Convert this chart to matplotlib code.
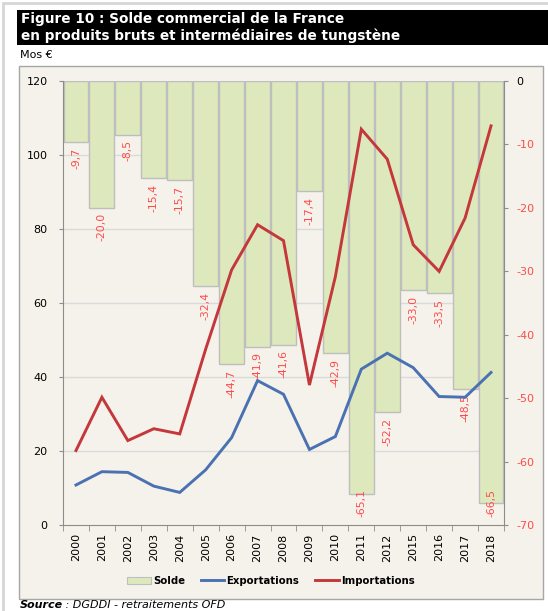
import matplotlib.pyplot as plt
from matplotlib.patches import Rectangle, Patch
from matplotlib.lines import Line2D
import numpy as np

years = ["2000", "2001", "2002", "2003", "2004", "2005", "2006", "2007", "2008",
         "2009", "2010", "2011", "2012", "2015", "2016", "2017", "2018"]
solde = [-9.7, -20.0, -8.5, -15.4, -15.7, -32.4, -44.7, -41.9, -41.6,
         -17.4, -42.9, -65.1, -52.2, -33.0, -33.5, -48.5, -66.5]
exportations = [10.8, 14.4, 14.2, 10.5, 8.8, 14.9, 23.6, 39.0, 35.3,
                20.4, 23.9, 42.1, 46.4, 42.5, 34.7, 34.5, 41.2]
importations = [20.1, 34.5, 22.8, 26.0, 24.6, 47.5, 68.9, 81.1, 76.8,
                37.8, 67.1, 106.9, 98.8, 75.7, 68.5, 82.9, 107.8]

bg = "#F5F2EB"
bar_fill = "#DDE9BD"
bar_edge = "#BEBEBE"
red = "#C4373B"
blue = "#4A72B2"
lbl_red = "#FF4A4A"
axis_gray = "#8C8C8C"

fig = plt.figure(figsize=(5.48, 6.11), dpi=100)
fig.patch.set_facecolor("white")

# page border and chart box (behind the axes)
fig.add_artist(Rectangle((3 / 548, -0.1), 1.0, 1.1 - 3 / 611, transform=fig.transFigure,
                         facecolor="none", edgecolor="#D6D6D6", lw=2.0, zorder=-2))
fig.add_artist(Rectangle((19 / 548, 1 - 599 / 611), 524 / 548, 533 / 611,
                         transform=fig.transFigure, facecolor=bg,
                         edgecolor="#A6A6A6", lw=1.0, zorder=-1))

# title band
fig.add_artist(Rectangle((17 / 548, 1 - 45 / 611), 531 / 548, 35 / 611,
                         transform=fig.transFigure, facecolor="black", edgecolor="none",
                         zorder=-1))
fig.text(21 / 548, 1 - 27.5 / 611,
         "Figure 10 : Solde commercial de la France\nen produits bruts et intermédiaires de tungstène",
         color="white", fontsize=9.8, fontweight="bold", va="center", ha="left",
         linespacing=1.2)
fig.text(20 / 548, 1 - 55 / 611, "Mos €", fontsize=8, va="center", ha="left")

# source line
fig.text(20 / 548, 0.002, "Source", fontsize=8, fontweight="bold",
         fontstyle="italic", va="bottom", ha="left")
fig.text(62 / 548, 0.002, " : DGDDI - retraitements OFD", fontsize=8,
         fontstyle="italic", va="bottom", ha="left")

pos = [63 / 548, 1 - 525 / 611, 441 / 548, 444.3 / 611]
ax2 = fig.add_axes(pos)  # bars, right scale
ax = fig.add_axes(pos, sharex=ax2)  # lines, left scale
ax2.set_zorder(1)
ax.set_zorder(2)
ax.patch.set_visible(False)
ax2.set_facecolor(bg)

x = np.arange(len(years))

# bars on the right scale
ax2.set_ylim(-70, 0)
ax2.yaxis.tick_right()
for v in range(20, 120, 20):
    ax2.axhline(-70 + v * 70 / 120, color="#DADADA", lw=1.0, zorder=0)
ax2.bar(x, solde, width=0.96, color=bar_fill, edgecolor=bar_edge, lw=1.0, zorder=2)
for i, v in enumerate(solde):
    lbl = f"{v:.1f}".replace(".", ",")
    if v < -62:
        # label kept inside the plot area, as Excel does
        ax2.annotate(lbl, (i, -70), xytext=(0, 6), textcoords="offset points",
                     rotation=90, ha="center", va="bottom",
                     fontsize=7.8, color=lbl_red, zorder=3)
    else:
        ax2.annotate(lbl, (i, v), xytext=(0, -4), textcoords="offset points",
                     rotation=90, ha="center", va="top",
                     fontsize=7.8, color=lbl_red, zorder=3)
ax2.set_yticks(range(-70, 1, 10))
ax2.set_yticklabels([str(t) for t in range(-70, 1, 10)])
for t in ax2.get_yticklabels():
    t.set_color("black" if t.get_text() == "0" else lbl_red)
ax2.tick_params(axis="y", direction="out", length=3, color=axis_gray, labelsize=8, pad=6)

# lines on the left scale
ax.plot(x, exportations, color=blue, lw=2.1, solid_joinstyle="miter")
ax.plot(x, importations, color=red, lw=2.1, solid_joinstyle="miter")
ax.set_ylim(0, 120)
ax.set_yticks(range(0, 121, 20))
ax.tick_params(axis="y", direction="out", length=3, color=axis_gray, labelsize=8, pad=8)

ax.set_xlim(-0.5, len(years) - 0.5)
ax.set_xticks(x)
ax.set_xticklabels(years, rotation=90, fontsize=8)
ax.set_xticks(np.arange(-0.5, len(years), 1.0), minor=True)
ax.tick_params(axis="x", which="major", length=0, pad=6)
ax.tick_params(axis="x", which="minor", direction="out", length=4, color=axis_gray)
ax2.tick_params(axis="x", which="both", length=0, labelbottom=False)

for a in (ax, ax2):
    a.spines["top"].set_visible(False)
    for s in ("left", "right", "bottom"):
        a.spines[s].set_color(axis_gray)
ax.spines["right"].set_visible(False)
ax2.spines["left"].set_visible(False)
ax2.spines["bottom"].set_visible(False)

handles = [Patch(facecolor=bar_fill, edgecolor=bar_edge, lw=0.8),
           Line2D([0], [0], color=blue, lw=2.1),
           Line2D([0], [0], color=red, lw=2.1)]
fig.legend(handles, ["Solde", "Exportations", "Importations"], loc="center",
           bbox_to_anchor=(271 / 548, 1 - 581 / 611), ncol=3, frameon=False,
           prop={"size": 7.3, "weight": "bold"}, handlelength=2.3, handletextpad=0.2,
           columnspacing=1.6)

fig.savefig("out.png", dpi=100, facecolor="white")
